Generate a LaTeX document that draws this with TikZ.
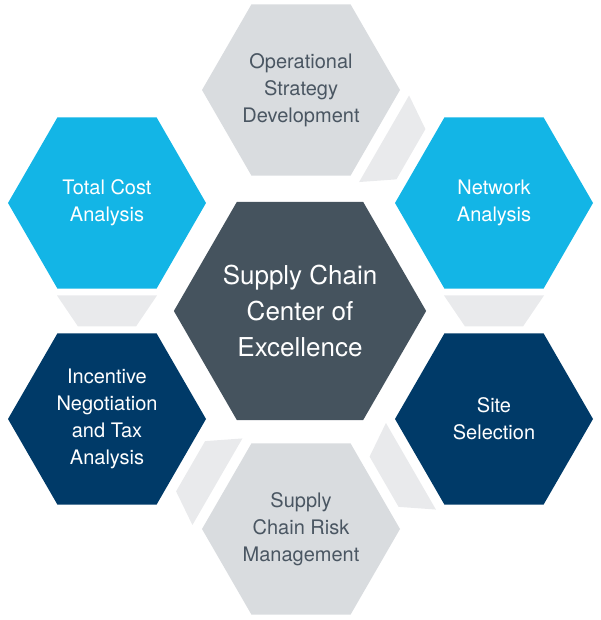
\documentclass[tikz,border=0pt]{standalone}
\usepackage{fontspec}
\setmainfont{TeX Gyre Heros}
\usepackage{tikz}
\usetikzlibrary{calc, positioning, shapes.geometric}
\definecolor{hexgrey}{HTML}{D9DCDF}
\definecolor{hexcyan}{HTML}{13B5E6}
\definecolor{hexnavy}{HTML}{003A68}
\definecolor{hexslate}{HTML}{45535E}
\definecolor{linkgrey}{HTML}{E9EAEC}
\definecolor{textgrey}{HTML}{4A5662}
\tikzstyle{hex}=[regular polygon, regular polygon sides=6, minimum size=198pt, inner sep=0pt, outer sep=0pt, align=center, font=\fontsize{20}{27}\selectfont]
\tikzstyle{greyhex}=[hex, fill=hexgrey, text=textgrey]
\tikzstyle{bluehex}=[hex, fill=hexcyan, text=white]
\tikzstyle{navyhex}=[hex, fill=hexnavy, text=white]
\tikzstyle{corehex}=[hex, minimum size=249pt, fill=hexslate, text=white, font=\fontsize{26}{36}\selectfont]
\tikzstyle{link}=[fill=linkgrey]

\begin{document}
\begin{tikzpicture}[x=1pt, y=1pt]
    \useasboundingbox (0,0) rectangle (600,620);

    \node[corehex] (core) at (300,309) {Supply Chain\\Center of\\Excellence};

    \node[greyhex] (op) at (301,530) {Operational\\Strategy\\Development};
    \node[bluehex] (net) at (494,417) {Network\\Analysis};
    \node[navyhex] (site) at (494,201) {Site\\Selection};
    \node[greyhex] (risk) at (301,91) {Supply\\Chain Risk\\Management};
    \node[navyhex] (inc) at (107,201) {Incentive\\Negotiation\\and Tax\\Analysis};
    \node[bluehex] (tc) at (107,417) {Total Cost\\Analysis};

    % links between neighbours
    \fill[link, shift={($(op)!0.5!(net)$)}, rotate=60] (-50,15.5) -- (50,15.5) -- (29,-15.5) -- (-29,-15.5) -- cycle;
    \fill[link, shift={($(net)!0.5!(site)$)}] (-50,15.5) -- (50,15.5) -- (29,-15.5) -- (-29,-15.5) -- cycle;
    \fill[link, shift={($(site)!0.5!(risk)$)}, rotate=-60] (-50,15.5) -- (50,15.5) -- (29,-15.5) -- (-29,-15.5) -- cycle;
    \fill[link, shift={($(risk)!0.5!(inc)$)}, rotate=-120] (-50,15.5) -- (50,15.5) -- (29,-15.5) -- (-29,-15.5) -- cycle;
    \fill[link, shift={($(tc)!0.5!(inc)$)}] (-50,15.5) -- (50,15.5) -- (29,-15.5) -- (-29,-15.5) -- cycle;
\end{tikzpicture}
\end{document}
